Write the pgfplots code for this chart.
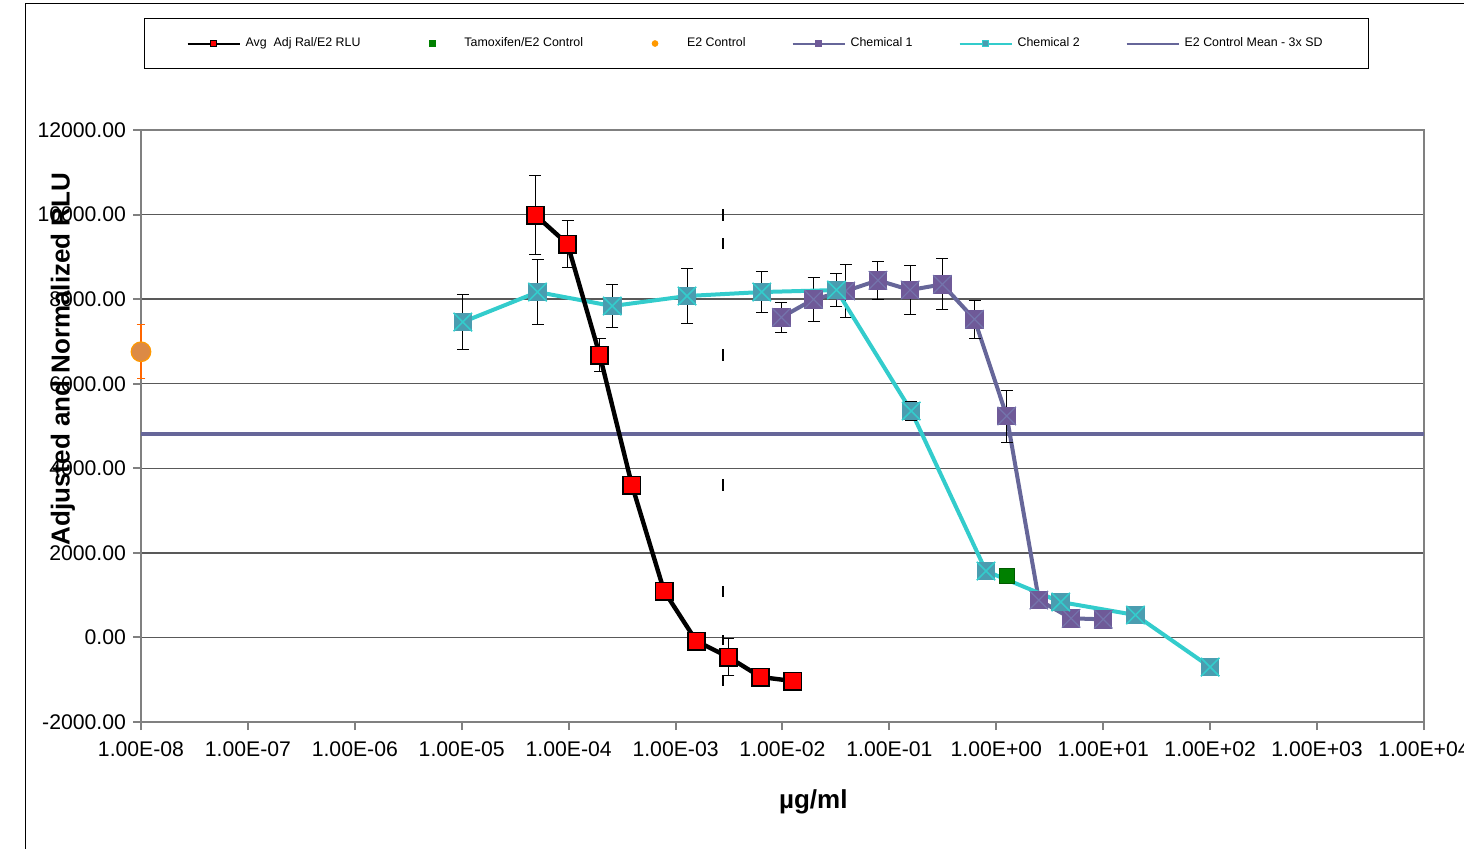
\documentclass[border=0pt]{standalone}
\usepackage{fontspec}
\setmainfont{Liberation Sans}
\usepackage{pgfplots}
\pgfplotsset{compat=1.18}
\definecolor{c1line}{HTML}{666699}
\definecolor{c1fill}{HTML}{6F5A98}
\definecolor{c1x}{HTML}{7474AC}
\definecolor{c2line}{HTML}{33CCCC}
\definecolor{c2fill}{HTML}{4A9DB0}
\definecolor{tamox}{HTML}{008000}
\definecolor{tamoxb}{HTML}{005A00}
\definecolor{e2fill}{HTML}{DC8A45}
\definecolor{e2border}{HTML}{FF9900}
\definecolor{e2err}{HTML}{FF6600}
\definecolor{axgray}{HTML}{808080}

\pgfdeclareplotmark{chemone}{%
  \pgfpathrectangle{\pgfqpoint{-\pgfplotmarksize}{-\pgfplotmarksize}}{\pgfqpoint{2\pgfplotmarksize}{2\pgfplotmarksize}}%
  \pgfsetfillcolor{c1fill}\pgfusepath{fill}%
  \pgfsetstrokecolor{c1x}\pgfsetlinewidth{0.6pt}%
  \pgfpathmoveto{\pgfqpoint{-\pgfplotmarksize}{-\pgfplotmarksize}}\pgfpathlineto{\pgfqpoint{\pgfplotmarksize}{\pgfplotmarksize}}%
  \pgfpathmoveto{\pgfqpoint{-\pgfplotmarksize}{\pgfplotmarksize}}\pgfpathlineto{\pgfqpoint{\pgfplotmarksize}{-\pgfplotmarksize}}%
  \pgfusepath{stroke}%
}
\pgfdeclareplotmark{chemtwo}{%
  \pgfpathrectangle{\pgfqpoint{-\pgfplotmarksize}{-\pgfplotmarksize}}{\pgfqpoint{2\pgfplotmarksize}{2\pgfplotmarksize}}%
  \pgfsetfillcolor{c2fill}\pgfusepath{fill}%
  \pgfsetstrokecolor{c2line}\pgfsetlinewidth{0.8pt}%
  \pgfpathmoveto{\pgfqpoint{-\pgfplotmarksize}{-\pgfplotmarksize}}\pgfpathlineto{\pgfqpoint{\pgfplotmarksize}{\pgfplotmarksize}}%
  \pgfpathmoveto{\pgfqpoint{-\pgfplotmarksize}{\pgfplotmarksize}}\pgfpathlineto{\pgfqpoint{\pgfplotmarksize}{-\pgfplotmarksize}}%
  \pgfusepath{stroke}%
}

\begin{document}
\begin{tikzpicture}
\useasboundingbox (0pt,0pt) rectangle (732pt,424pt);
\draw[black, line width=0.5pt] (12.5pt,-2pt) -- (12.5pt,422pt) -- (740pt,422pt);
\begin{axis}[
  scale only axis,
  width=641.5pt, height=296pt,
  at={(70.5pt,63pt)}, anchor=south west,
  xmode=log, xmin=1e-8, xmax=1e4,
  ymin=-2000, ymax=12000,
  scaled y ticks=false,
  clip=false,
  xtick={1e-8,1e-7,1e-6,1e-5,1e-4,1e-3,1e-2,1e-1,1,1e1,1e2,1e3,1e4},
  xticklabels={1.00E-08,1.00E-07,1.00E-06,1.00E-05,1.00E-04,1.00E-03,1.00E-02,1.00E-01,1.00E+00,1.00E+01,1.00E+02,1.00E+03,1.00E+04},
  xminorticks=false,
  ytick={-2000,0,2000,4000,6000,8000,10000,12000},
  yticklabels={-2000.00,0.00,2000.00,4000.00,6000.00,8000.00,10000.00,12000.00},
  tick label style={font=\fontsize{10.6pt}{12pt}\selectfont, black},
  xticklabel style={yshift=-2.5pt},
  tick pos=left, tick align=outside, major tick length=4pt,
  tick style={draw=axgray, line width=1pt},
  axis line style={draw=axgray, line width=1pt},
  ymajorgrids, major grid style={draw=black!65, line width=0.7pt},
  xlabel={µg/ml}, ylabel={Adjusted and Normalized RLU},
  xlabel style={at={(axis description cs:0.524,-0.135)}, anchor=center, font=\bfseries\fontsize{13pt}{15pt}\selectfont},
  ylabel style={at={(axis description cs:-0.0608,0.6132)}, anchor=center, font=\bfseries\fontsize{13pt}{15pt}\selectfont},
  legend columns=6,
  legend style={at={(axis description cs:0.4798,1.1461)}, anchor=center, draw=black, line width=0.5pt,
    inner xsep=21pt, inner ysep=7.3pt, font=\fontsize{6.2pt}{7pt}\selectfont,
    /tikz/every even column/.append style={column sep=21pt}},
  legend cell align=left,
]
% legend
\addlegendimage{legend image code/.code={
  \path[draw=none,fill=none] (0pt,0pt) -- (27pt,0pt);
  \draw[black, line width=1pt] (0pt,0pt) -- (26pt,0pt);
  \draw[black, fill=red, line width=0.4pt] (11.5pt,-1.5pt) rectangle (14.5pt,1.5pt);}}
\addlegendentry{Avg\ \ Adj Ral/E2 RLU}
\addlegendimage{legend image code/.code={
  \path[draw=none,fill=none] (0pt,0pt) -- (27pt,0pt);
  \fill[tamox] (11.6pt,-1.4pt) rectangle (14.4pt,1.4pt);}}
\addlegendentry{Tamoxifen/E2 Control}
\addlegendimage{legend image code/.code={
  \path[draw=none,fill=none] (0pt,0pt) -- (27pt,0pt);
  \fill[e2border] (13pt,0pt) circle (1.4pt);}}
\addlegendentry{E2 Control}
\addlegendimage{legend image code/.code={
  \path[draw=none,fill=none] (0pt,0pt) -- (27pt,0pt);
  \draw[c1line, line width=1pt] (0pt,0pt) -- (26pt,0pt);
  \fill[c1fill] (11.5pt,-1.5pt) rectangle (14.5pt,1.5pt);}}
\addlegendentry{Chemical 1}
\addlegendimage{legend image code/.code={
  \path[draw=none,fill=none] (0pt,0pt) -- (27pt,0pt);
  \draw[c2line, line width=1pt] (0pt,0pt) -- (26pt,0pt);
  \draw[c2line, fill=c2fill, line width=0.3pt] (11.5pt,-1.5pt) rectangle (14.5pt,1.5pt);}}
\addlegendentry{Chemical 2}
\addlegendimage{legend image code/.code={
  \path[draw=none,fill=none] (0pt,0pt) -- (27pt,0pt);
  \draw[c1line, line width=1pt] (0pt,0pt) -- (26pt,0pt);}}
\addlegendentry{E2 Control Mean - 3x SD}

% E2 control mean - 3 SD
\addplot[c1line, line width=2pt, forget plot] coordinates {(1e-8,4822) (1e4,4822)};
% dashed vertical line
\addplot[black, line width=0.75pt, forget plot,
  dash pattern=on 6pt off 8.5pt on 5.5pt off 50pt on 6pt off 59pt on 6pt off 47.5pt on 5.5pt off 19pt on 5pt off 15pt on 5.5pt off 5pt]
  coordinates {(2.777e-3,10131) (2.777e-3,-1149)};
% Chemical 1
\addplot[c1line, line width=2pt, mark=chemone, mark size=4.6pt, forget plot,
  error bars/.cd, y dir=both, y explicit,
  error bar style={black, line width=0.5pt},
  error mark options={rotate=90, mark size=3pt, black, line width=0.5pt}]
coordinates {
(0.009765625,7570) +- (0,360)
(0.01953125,7996) +- (0,520)
(0.0390625,8192) +- (0,630)
(0.078125,8445) +- (0,450)
(0.15625,8216) +- (0,575)
(0.3125,8350) +- (0,600)
(0.625,7523) +- (0,455)
(1.25,5236) +- (0,615)
(2.5,884) +- (0,150)
(5,452) +- (0,150)
(10,428) +- (0,150)
};
% Chemical 2
\addplot[c2line, line width=2pt, mark=chemtwo, mark size=4.6pt, forget plot,
  error bars/.cd, y dir=both, y explicit,
  error bar style={black, line width=0.5pt},
  error mark options={rotate=90, mark size=3pt, black, line width=0.5pt}]
coordinates {
(1.024e-5,7459) +- (0,640)
(5.12e-5,8168) +- (0,765)
(2.56e-4,7837) +- (0,510)
(1.28e-3,8074) +- (0,657)
(6.4e-3,8168) +- (0,480)
(0.032,8215) +- (0,400)
(0.16,5354) +- (0,230)
(0.8,1570) +- (0,120)
(4,837) +- (0,120)
(20,530) +- (0,120)
(100,-700) +- (0,120)
};
% Avg Adj Ral/E2 RLU
\addplot[black, line width=2.2pt, mark=square*, mark size=4.3pt,
  mark options={fill=red, draw=black, line width=0.9pt}, forget plot,
  error bars/.cd, y dir=both, y explicit,
  error bar style={black, line width=0.5pt},
  error mark options={rotate=90, mark size=3pt, black, line width=0.5pt}]
coordinates {
(4.8828e-5,9989) +- (0,934)
(9.7656e-5,9303) +- (0,560)
(1.9531e-4,6678) +- (0,390)
(3.9063e-4,3604) +- (0,150)
(7.8125e-4,1097) +- (0,150)
(1.5625e-3,-85) +- (0,150)
(3.125e-3,-464) +- (0,430)
(6.25e-3,-936) +- (0,150)
(0.0125,-1031) +- (0,100)
};
% Tamoxifen/E2 control
\addplot[only marks, mark=square*, mark size=3.75pt,
  mark options={fill=tamox, draw=tamoxb, line width=0.4pt}, forget plot]
coordinates {(1.25,1452)};
% E2 control
\addplot[only marks, mark=*, mark size=4.9pt,
  mark options={fill=e2fill, draw=e2border, line width=0.6pt}, forget plot,
  error bars/.cd, y dir=both, y explicit,
  error bar style={e2err, line width=0.6pt},
  error mark options={rotate=90, mark size=2.2pt, e2err, line width=0.6pt}]
coordinates {(1e-8,6756) +- (0,640)};
\end{axis}
\end{tikzpicture}
\end{document}
